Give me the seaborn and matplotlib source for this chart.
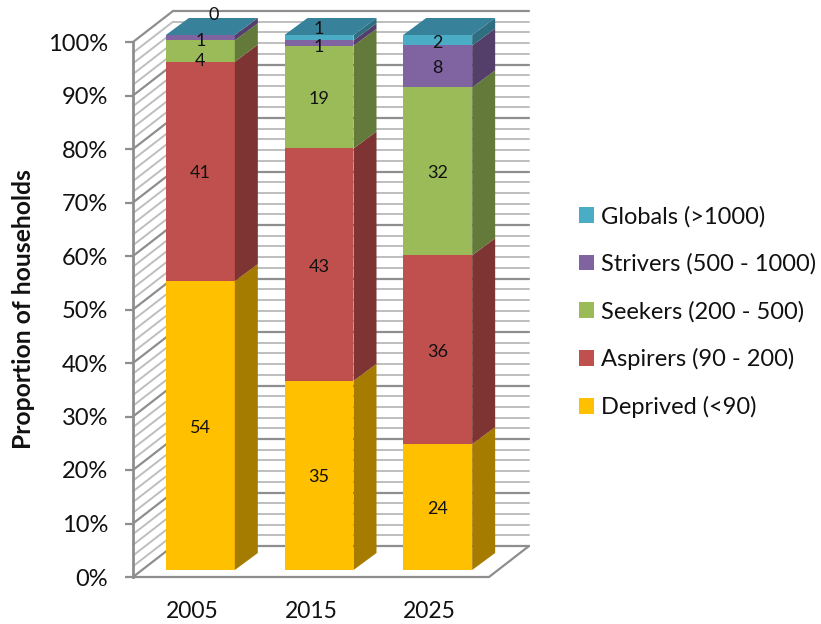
import numpy as np
import pandas as pd
import matplotlib
matplotlib.use('Agg')
import matplotlib.pyplot as plt
from matplotlib.patches import Polygon
import seaborn as sns

years = ['2005', '2015', '2025']
groups = ['Deprived (<90)', 'Aspirers (90 - 200)', 'Seekers (200 - 500)',
          'Strivers (500 - 1000)', 'Globals (>1000)']
deprived = [54, 35, 24]
aspirers = [41, 43, 36]
seekers = [4, 19, 32]
strivers = [1, 1, 8]
globals_ = [0, 1, 2]

front_colors = ['#FFC000', '#C0504D', '#9BBB59', '#8064A2', '#4BACC6']
side_colors = ['#A67C00', '#7D3432', '#647A3A', '#533F6A', '#2F6E80']
top_color = '#37829A'

# hand placed labels in the original, pixels (year index, group index)
label_nudge = {(0, 2): (0, 8), (0, 3): (0, 1), (0, 4): (13, -22),
               (1, 3): (0, 2), (1, 4): (0, -11), (2, 4): (0, 1)}

W, H = 821, 624
PX_CAT = 118.67
PX_PCT = 5.35

sns.set_style('white')
plt.rcParams['font.family'] = ['Lato', 'DejaVu Sans']

values = np.array([deprived, aspirers, seekers, strivers, globals_], dtype=float)
shares = values / values.sum(axis=0) * 100
bottoms = np.vstack([np.zeros(3), np.cumsum(shares, axis=0)[:-1]])

df = pd.DataFrame({'year': np.tile(years, len(groups)),
                   'group': np.repeat(groups, len(years)),
                   'share': shares.ravel()})

fig = plt.figure(figsize=(W / 100, H / 100), dpi=100)
wall = fig.add_axes([133 / W, (H - 577) / H, 356 / W, 535 / H])
ax = fig.add_axes([141 / W, (H - 570) / H, 356 / W, 535 / H], facecolor='none')

# walls and floor of the 3d box
wall_dx = 40 / PX_CAT
wall_dy = 31 / PX_PCT
for v in range(0, 101, 2):
    major = v % 10 == 0
    col = '#8E8E8E' if major else '#BEBEBE'
    lw = 1.6 if major else 1.4
    wall.plot([-0.5, -0.5 + wall_dx], [v, v + wall_dy], color=col, lw=lw, clip_on=False, zorder=2)
    wall.plot([-0.5 + wall_dx, 2.5 + wall_dx], [v + wall_dy, v + wall_dy], color=col, lw=lw, clip_on=False, zorder=2)
wall.plot([-0.5, 2.5, 2.5 + wall_dx], [0, 0, wall_dy], color='#8E8E8E', lw=1.6, clip_on=False, zorder=2)

wall.set_xlim(-0.5, 2.5)
wall.set_ylim(0, 100)
wall.set_xticks(range(3))
wall.set_xticklabels(years, fontsize=16.5, color='#111111')
wall.set_yticks(range(0, 101, 10))
wall.set_yticklabels([f'{v}%' for v in range(0, 101, 10)], fontsize=17, color='#111111')
wall.tick_params(axis='x', length=0, pad=17)
wall.tick_params(axis='y', length=6, width=1.6, color='#8E8E8E', pad=12, left=True)
for side in ['top', 'right']:
    wall.spines[side].set_visible(False)
wall.spines['bottom'].set_visible(False)
wall.spines['left'].set_color('#8E8E8E')
wall.spines['left'].set_linewidth(2)
fig.text(24 / W, 1 - 309 / H, 'Proportion of households', rotation=90, fontsize=17.8,
         fontweight='bold', ha='center', va='center', color='#111111')

# front faces
bar_width = 69 / PX_CAT
for i, name in enumerate(groups):
    sns.barplot(data=df[df['group'] == name], x='year', y='share', bottom=bottoms[i],
                color=front_colors[i], saturation=1, width=bar_width, errorbar=None,
                label=name, legend=False, ax=ax, zorder=3, linewidth=0)

# sides and tops
dx = 23 / PX_CAT
dy = 17 / PX_PCT
for j in range(3):
    right = j + bar_width / 2
    left = j - bar_width / 2
    for i in range(len(groups)):
        y0 = bottoms[i, j]
        y1 = y0 + shares[i, j]
        ax.add_patch(Polygon([(right, y0), (right + dx, y0 + dy), (right + dx, y1 + dy), (right, y1)],
                             closed=True, facecolor=side_colors[i], edgecolor='none', clip_on=False, zorder=3))
    ax.add_patch(Polygon([(left, 100), (right, 100), (right + dx, 100 + dy), (left + dx, 100 + dy)],
                         closed=True, facecolor=top_color, edgecolor='none', clip_on=False, zorder=3))

# data labels
for i in range(len(groups)):
    for j in range(3):
        nx, ny = label_nudge.get((j, i), (0, 0))
        ax.annotate(f'{values[i, j]:.0f}', (j, bottoms[i, j] + shares[i, j] / 2),
                    xytext=(nx * 0.72, -(ny + 2) * 0.72), textcoords='offset points',
                    ha='center', va='center', fontsize=13, color='#111111',
                    annotation_clip=False, zorder=5)

ax.set_xlim(-0.5, 2.5)
ax.set_ylim(0, 100)
ax.axis('off')

handles, labels = ax.get_legend_handles_labels()
fig.legend(handles[::-1], labels[::-1], loc='center left', bbox_to_anchor=(579 / W, 1 - 312 / H),
           frameon=False, fontsize=17, handlelength=0.64, handleheight=0.64, handletextpad=0.3,
           labelspacing=1.1, labelcolor='#111111', borderaxespad=0, borderpad=0)

fig.savefig('out.png', dpi=100)
